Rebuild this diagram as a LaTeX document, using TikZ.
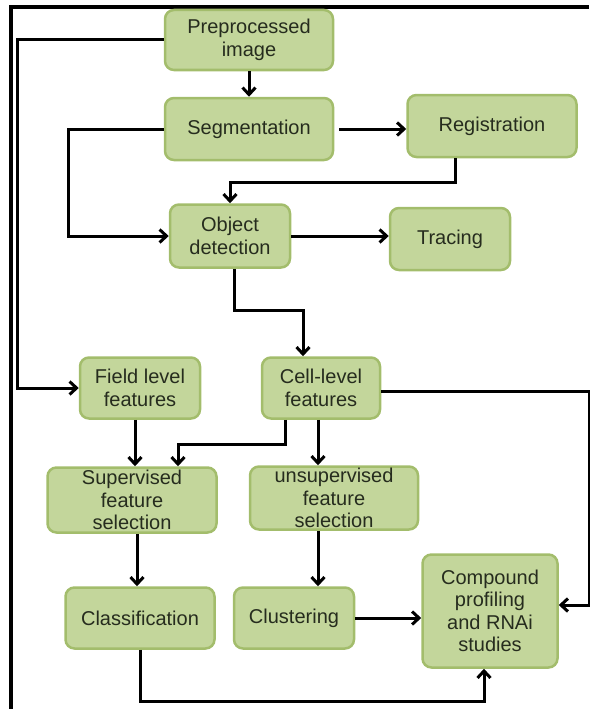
\documentclass[tikz,border=0pt]{standalone}
\usepackage{fontspec}
\setmainfont{Liberation Sans}
\usetikzlibrary{arrows.meta}
\definecolor{boxfill}{HTML}{C3D69B}
\definecolor{boxedge}{HTML}{A3BD6C}
\definecolor{boxtext}{HTML}{262C1E}
\tikzset{
  stagebox/.style={rectangle, rounded corners=9pt, draw=boxedge, line width=2.5pt,
    fill=boxfill, text=boxtext, align=center, inner sep=0pt,
    font=\fontsize{20}{22.5}\selectfont},
  flow/.style={line width=3pt, line join=miter,
    -{Straight Barb[length=7pt,width=13pt]}},
}
\begin{document}
\begin{tikzpicture}[x=1pt,y=-1pt]
  \useasboundingbox (0,0) rectangle (589,709);
  \draw [line width=3.5pt] (11,709) -- (11,7) -- (589,7);
  % boxes
  \node [stagebox, minimum width=168pt, minimum height=60pt] (pre) at (249,40) {Preprocessed\\image};
  \node [stagebox, minimum width=168pt, minimum height=62pt] (seg) at (249,129) {Segmentation};
  \node [stagebox, minimum width=169pt, minimum height=62pt] (reg) at (492,126) {Registration};
  \node [stagebox, minimum width=120pt, minimum height=63pt] (obj) at (230,236) {Object\\detection};
  \node [stagebox, minimum width=120pt, minimum height=62pt] (trace) at (450,239) {Tracing};
  \node [stagebox, minimum width=120pt, minimum height=61pt] (field) at (140,388) {Field level\\features};
  \node [stagebox, minimum width=118pt, minimum height=61pt] (cell) at (321,388) {Cell-level\\features};
  \node [stagebox, minimum width=169pt, minimum height=65pt] (sup) at (132,500) {Supervised\\feature\\selection};
  \node [stagebox, minimum width=168pt, minimum height=63pt] (unsup) at (334,498) {unsupervised\\feature\\selection};
  \node [stagebox, minimum width=149pt, minimum height=61pt] (class) at (140,618) {Classification};
  \node [stagebox, minimum width=120pt, minimum height=61pt] (clust) at (294,618) {Clustering};
  \node [stagebox, minimum width=135pt, minimum height=113pt] (comp) at (490,611) {Compound\\profiling\\and RNAi\\studies};
  % connectors
  \draw [flow] (pre) -- (seg);
  \draw [flow] (pre.west) -- ++(-146,0) |- (field.west);
  \draw [flow] (seg.west) -- ++(-95,0) |- (obj.west);
  \draw [flow] ([xshift=5pt]seg.east) -- (seg.east -| reg.west);
  \draw [flow] ([xshift=-37pt]reg.south) -- ++(0,24) -| (obj.north);
  \draw [flow] (obj.east) -- (obj.east -| trace.west);
  \draw [flow] ([xshift=4pt]obj.south) -- ++(0,42) -| ([xshift=-18pt]cell.north);
  \draw [flow] ([xshift=-5pt]field.south) -- ([xshift=-5pt]field.south |- sup.north);
  \draw [flow] ([xshift=-36pt]cell.south) -- ++(0,25) -| ([xshift=46pt]sup.north);
  \draw [flow] ([xshift=-3pt]cell.south) -- ([xshift=-3pt]cell.south |- unsup.north);
  \draw [flow] ([yshift=-3pt]cell.east) -- ++(208,0) |- ([yshift=6pt]comp.east);
  \draw [flow] ([xshift=5pt]sup.south) -- ([xshift=5pt]sup.south |- class.north);
  \draw [flow] ([xshift=-16pt]unsup.south) -- ([xshift=-16pt]unsup.south |- clust.north);
  \draw [flow] (clust.east) -- (clust.east -| comp.west);
  \draw [flow] (class.south) -- ++(0,52) -| ([xshift=-6pt]comp.south);
\end{tikzpicture}
\end{document}
